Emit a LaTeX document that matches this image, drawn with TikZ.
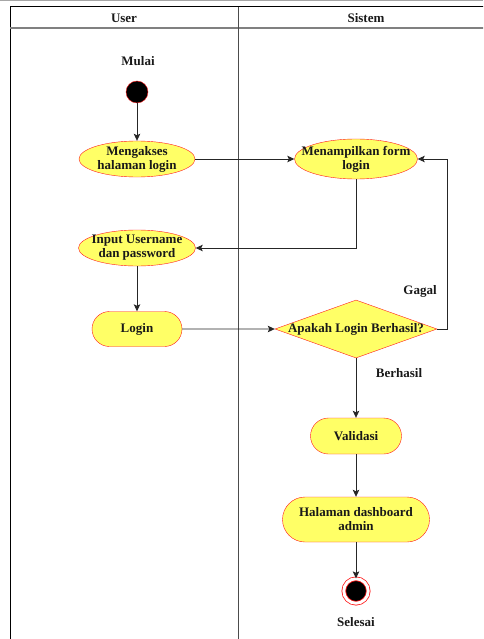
\documentclass[tikz,border=0pt]{standalone}
\usepackage{fontspec}
\setmainfont{Liberation Serif}
\usetikzlibrary{shapes.geometric,shapes.misc,arrows.meta}

\definecolor{actfill}{HTML}{FFFF66}
\definecolor{actline}{HTML}{FF1A1A}

\tikzset{
	every node/.style={font=\fontsize{13}{14}\selectfont\bfseries, text=black!90},
	act/.style={ellipse, draw=actline, fill=actfill, inner sep=0pt},
	actr/.style={rounded rectangle, draw=actline, fill=actfill, inner sep=0pt},
	arr/.style={draw=black!85, line width=0.8pt, -{Stealth[length=7pt,width=6.5pt,inset=1.5pt]}},
}

\begin{document}
\begin{tikzpicture}[x=1pt, y=-1pt]
	\useasboundingbox (0,0) rectangle (483,639);
	\clip (0,0) rectangle (483,639);
	% swimlanes
	\draw[black!35, line width=1pt] (0,0.5) -- (483,0.5);
	\draw[black, line width=1pt] (10,660) -- (10,7) -- (494,7) -- (494,660);
	\draw[black!50, line width=1.2pt] (10,28) -- (494,28);
	\draw[black!70, line width=1pt] (238,7) -- (238,660);
	\node (luser) at (124,18) {User};
	\node (lsistem) at (366,18) {Sistem};

	\node (tmulai) at (138,61) {Mulai};
	\node[circle, fill=black, draw=actline, minimum size=22pt, inner sep=0pt] (mulai) at (137,92) {};
	\node[act, minimum width=116pt, minimum height=36pt, label={[align=center]center:Mengakses\\halaman login}] (akses) at (137,159) {};
	\node[act, minimum width=123pt, minimum height=40pt, label={[align=center]center:Menampilkan form\\login}] (tampil) at (356,159) {};
	\node[act, minimum width=117pt, minimum height=36pt, label={[align=center]center:Input Username\\dan password}] (input) at (137,248) {};
	\node[actr, minimum width=90pt, minimum height=35pt, label=center:Login] (login) at (137,329) {};
	\node[diamond, draw=actline, fill=actfill, inner sep=0pt, minimum width=162pt, minimum height=58pt, label=center:Apakah Login Berhasil?] (cek) at (356,329) {};
	\node[actr, minimum width=91pt, minimum height=36pt, label=center:Validasi] (valid) at (356,436) {};
	\node[actr, minimum width=147pt, minimum height=45pt, label={[align=center]center:Halaman dashboard\\admin}] (dash) at (356,519.5) {};
	\node[circle, fill=black, draw=actline, double=white, double distance=2.9pt, line width=0.8pt, minimum size=24.5pt, inner sep=0pt] (selesai) at (356,591) {};
	\node (tselesai) at (356,622) {Selesai};

	\node (tgagal) at (420,291) {Gagal};
	\node (tberhasil) at (399,373) {Berhasil};

	\draw[arr] (mulai) -- (akses);
	\draw[arr] (akses) -- (tampil);
	\draw[arr] (tampil.south) |- (input.east);
	\draw[arr] (input) -- (login);
	\draw[arr] (login) -- (cek);
	\draw[arr] (cek.east) -- ++(10,0) |- (tampil.east);
	\draw[arr] (cek) -- (valid);
	\draw[arr] (valid) -- (dash);
	\draw[arr] (dash) -- (selesai);
\end{tikzpicture}
\end{document}
